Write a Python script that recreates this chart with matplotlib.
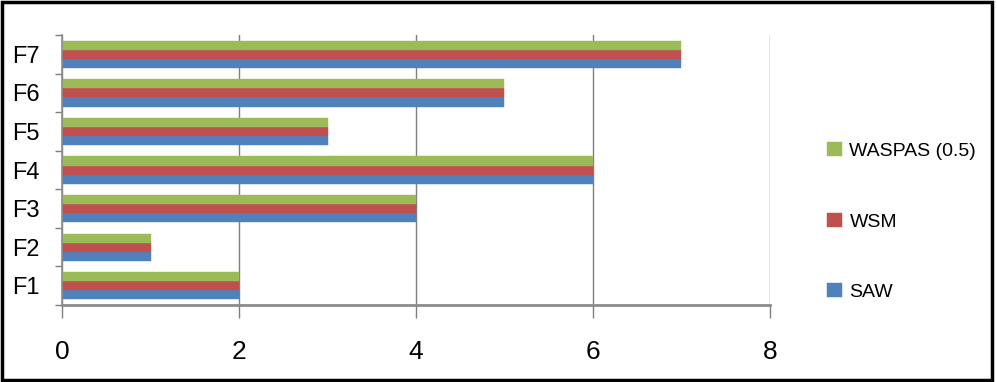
import matplotlib
matplotlib.use("Agg")
import matplotlib.pyplot as plt
import numpy as np
from matplotlib.patches import Rectangle

categories = ["F1", "F2", "F3", "F4", "F5", "F6", "F7"]
saw = [2, 1, 4, 6, 3, 5, 7]
wsm = [2, 1, 4, 6, 3, 5, 7]
waspas = [2, 1, 4, 6, 3, 5, 7]
series_names = ["SAW", "WSM", "WASPAS (0.5)"]
colors = ["#4F81BD", "#C0504D", "#9BBB59"]
xticks = [0, 2, 4, 6, 8]

plt.rcParams['font.family'] = ['Liberation Sans Narrow', 'Liberation Sans', 'DejaVu Sans']

fig = plt.figure(figsize=(9.97, 3.82), dpi=100)
ax = fig.add_axes([0.0622, 0.2016, 0.7101, 0.7064])

y = np.arange(len(categories))
h = 0.235
for i, (vals, name, c) in enumerate(zip([saw, wsm, waspas], series_names, colors)):
    ax.barh(y + (i - 1) * h, vals, height=h, color=c, label=name,
            edgecolor=c, linewidth=0.3, zorder=3)

ax.set_xlim(0, 8)
ax.set_ylim(-0.5, len(categories) - 0.5)
ax.set_xticks(xticks)
ax.set_xticklabels([str(t) for t in xticks], fontsize=19)
ax.set_yticks(y)
ax.set_yticklabels(categories, fontsize=17)
ax.set_yticks(np.arange(-0.5, len(categories), 1), minor=True)
ax.tick_params(axis='y', which='major', length=0, pad=16)
ax.tick_params(axis='y', which='minor', length=5, color='#7f7f7f', width=1)
ax.tick_params(axis='x', which='major', length=9, color='#7f7f7f', width=1, pad=16)

ax.grid(axis='x', color='#7f7f7f', linewidth=1, zorder=0)
for s in ['top', 'right']:
    ax.spines[s].set_visible(False)
ax.spines['left'].set_color('#8c8c8c')
ax.spines['left'].set_linewidth(1.2)
ax.spines['bottom'].set_color('#8c8c8c')
ax.spines['bottom'].set_linewidth(2)
ax.spines['left'].set_zorder(4)

handles, labels = ax.get_legend_handles_labels()
leg = fig.legend(handles[::-1], labels[::-1], loc='center left',
                 bbox_to_anchor=(0.812, 0.42), frameon=False, fontsize=14,
                 handlelength=0.75, handleheight=0.75, handletextpad=0.4,
                 labelspacing=2.7)

fig.patches.append(Rectangle((0.002, 0.005), 0.993, 0.99, transform=fig.transFigure,
                             fill=False, edgecolor='black', linewidth=2.5))

fig.savefig("out.png", dpi=100)
